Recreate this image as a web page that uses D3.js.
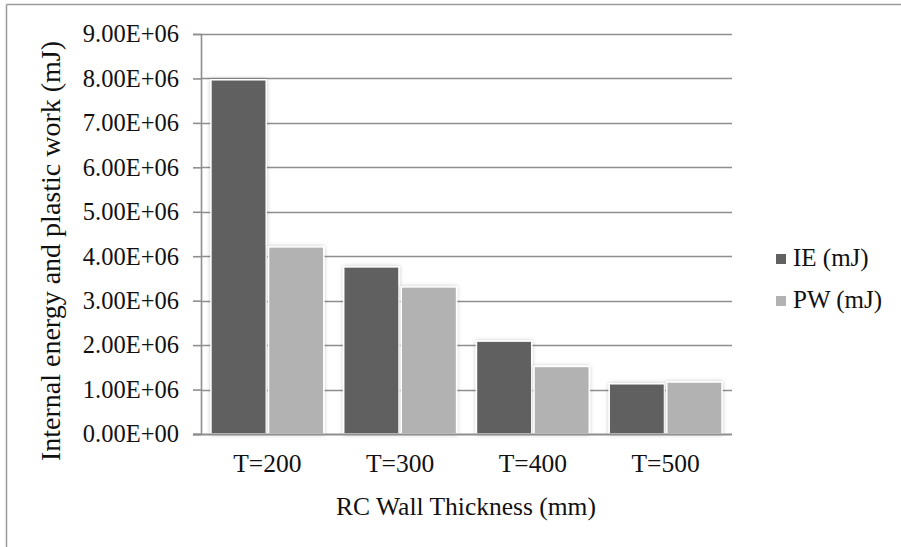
<!DOCTYPE html>
<html>
<head>
<meta charset="utf-8">
<script src="https://cdn.jsdelivr.net/npm/d3@7"></script>
<style>
  html, body { margin: 0; padding: 0; background: #fff; }
  svg { display: block; }
  text { font-family: "Liberation Serif", "Times New Roman", serif; fill: #111; }
</style>
</head>
<body>
<svg id="chart" width="901" height="547"></svg>
<script>
const categories = ["T=200", "T=300", "T=400", "T=500"];
const seriesNames = ["IE (mJ)", "PW (mJ)"];
const ieValues = [7.97e6, 3.76e6, 2.09e6, 1.13e6];
const pwValues = [4.21e6, 3.31e6, 1.52e6, 1.17e6];
const yTicks = [0, 1e6, 2e6, 3e6, 4e6, 5e6, 6e6, 7e6, 8e6, 9e6];
const colors = ["#616161", "#b2b2b2"];

const svg = d3.select("#chart");
const W = 901, H = 547;
const m = { left: 201, right: 732, top: 34, bottom: 434 };

// outer frame (top and left edges visible)
svg.append("line").attr("x1", 6.5).attr("x2", W).attr("y1", 4.5).attr("y2", 4.5)
  .attr("stroke", "#9a9a9a").attr("stroke-width", 1.5);
svg.append("line").attr("x1", 6.5).attr("x2", 6.5).attr("y1", 4.5).attr("y2", H)
  .attr("stroke", "#9a9a9a").attr("stroke-width", 1.5);

const defs = svg.append("defs");
const f = defs.append("filter").attr("id", "shadow").attr("x", "-20%").attr("y", "-10%").attr("width", "140%").attr("height", "120%");
f.append("feDropShadow").attr("dx", 0).attr("dy", 0).attr("stdDeviation", 2.2)
  .attr("flood-color", "#000").attr("flood-opacity", 0.22);

const x0 = d3.scaleBand().domain(categories).range([m.left, m.right])
  .paddingInner(0.15).paddingOuter(0.075);
const x1 = d3.scaleBand().domain(seriesNames).range([0, x0.bandwidth()]).paddingInner(0.04);
const y = d3.scaleLinear().domain([0, 9e6]).range([m.bottom, m.top]);

// gridlines
svg.append("g").selectAll("line").data(yTicks.filter(d => d > 0)).join("line")
  .attr("x1", m.left).attr("x2", m.right)
  .attr("y1", d => Math.round(y(d)) + 0.5).attr("y2", d => Math.round(y(d)) + 0.5)
  .attr("stroke", "#8e8e8e").attr("stroke-width", 1.6);

// y axis
const yAxis = d3.axisLeft(y).tickValues(yTicks).tickSize(8).tickPadding(14)
  .tickFormat(d => {
    const s = d.toExponential(2).toUpperCase();
    const [mant, exp] = s.split("E");
    const sign = exp[0] === "-" ? "-" : "+";
    const n = Math.abs(parseInt(exp, 10));
    return mant + "E" + sign + (n < 10 ? "0" + n : n);
  });
const gy = svg.append("g").attr("transform", `translate(${m.left},0)`).call(yAxis);
gy.select(".domain").attr("stroke", "#8e8e8e").attr("stroke-width", 1.6);
gy.selectAll(".tick line").attr("stroke", "#8e8e8e").attr("stroke-width", 1.6);
gy.selectAll(".tick text").style("font-family", "Liberation Serif").style("font-size", "24.5px").attr("fill", "#111");

// bars
const groups = svg.append("g").selectAll("g").data(categories).join("g")
  .attr("transform", d => `translate(${x0(d)},0)`);
groups.selectAll("rect")
  .data((d, i) => [{ s: seriesNames[0], v: ieValues[i], c: colors[0] }, { s: seriesNames[1], v: pwValues[i], c: colors[1] }])
  .join("rect")
  .attr("x", d => x1(d.s))
  .attr("width", x1.bandwidth())
  .attr("y", d => y(d.v))
  .attr("height", d => y(0) - y(d.v))
  .attr("fill", d => d.c)
  .attr("stroke", "#fff").attr("stroke-width", 1.5)
  .attr("filter", "url(#shadow)");

// x axis
const xAxis = d3.axisBottom(x0).tickSize(0).tickPadding(20);
const gx = svg.append("g").attr("transform", `translate(0,${m.bottom})`).call(xAxis);
gx.select(".domain").remove();
gx.append("line").attr("x1", m.left - 8).attr("x2", m.right).attr("y1", 0.5).attr("y2", 0.5)
  .attr("stroke", "#8e8e8e").attr("stroke-width", 1.8);
gx.selectAll(".tick text").style("font-family", "Liberation Serif").style("font-size", "25.5px").attr("fill", "#111");

// axis titles
svg.append("text").attr("x", 466).attr("y", 515).attr("text-anchor", "middle")
  .style("font-size", "25.5px").text("RC Wall Thickness (mm)");
svg.append("text").attr("transform", `translate(60,251) rotate(-90)`)
  .attr("text-anchor", "middle").style("font-size", "28px")
  .text("Internal energy and plastic work (mJ)");

// legend
const leg = svg.append("g").selectAll("g").data(seriesNames).join("g")
  .attr("transform", (d, i) => `translate(776,${254 + i * 42})`);
leg.append("rect").attr("width", 10).attr("height", 10).attr("fill", (d, i) => colors[i]);
leg.append("text").attr("x", 17).attr("y", 12).style("font-size", "25px").text(d => d);
</script>
</body>
</html>
